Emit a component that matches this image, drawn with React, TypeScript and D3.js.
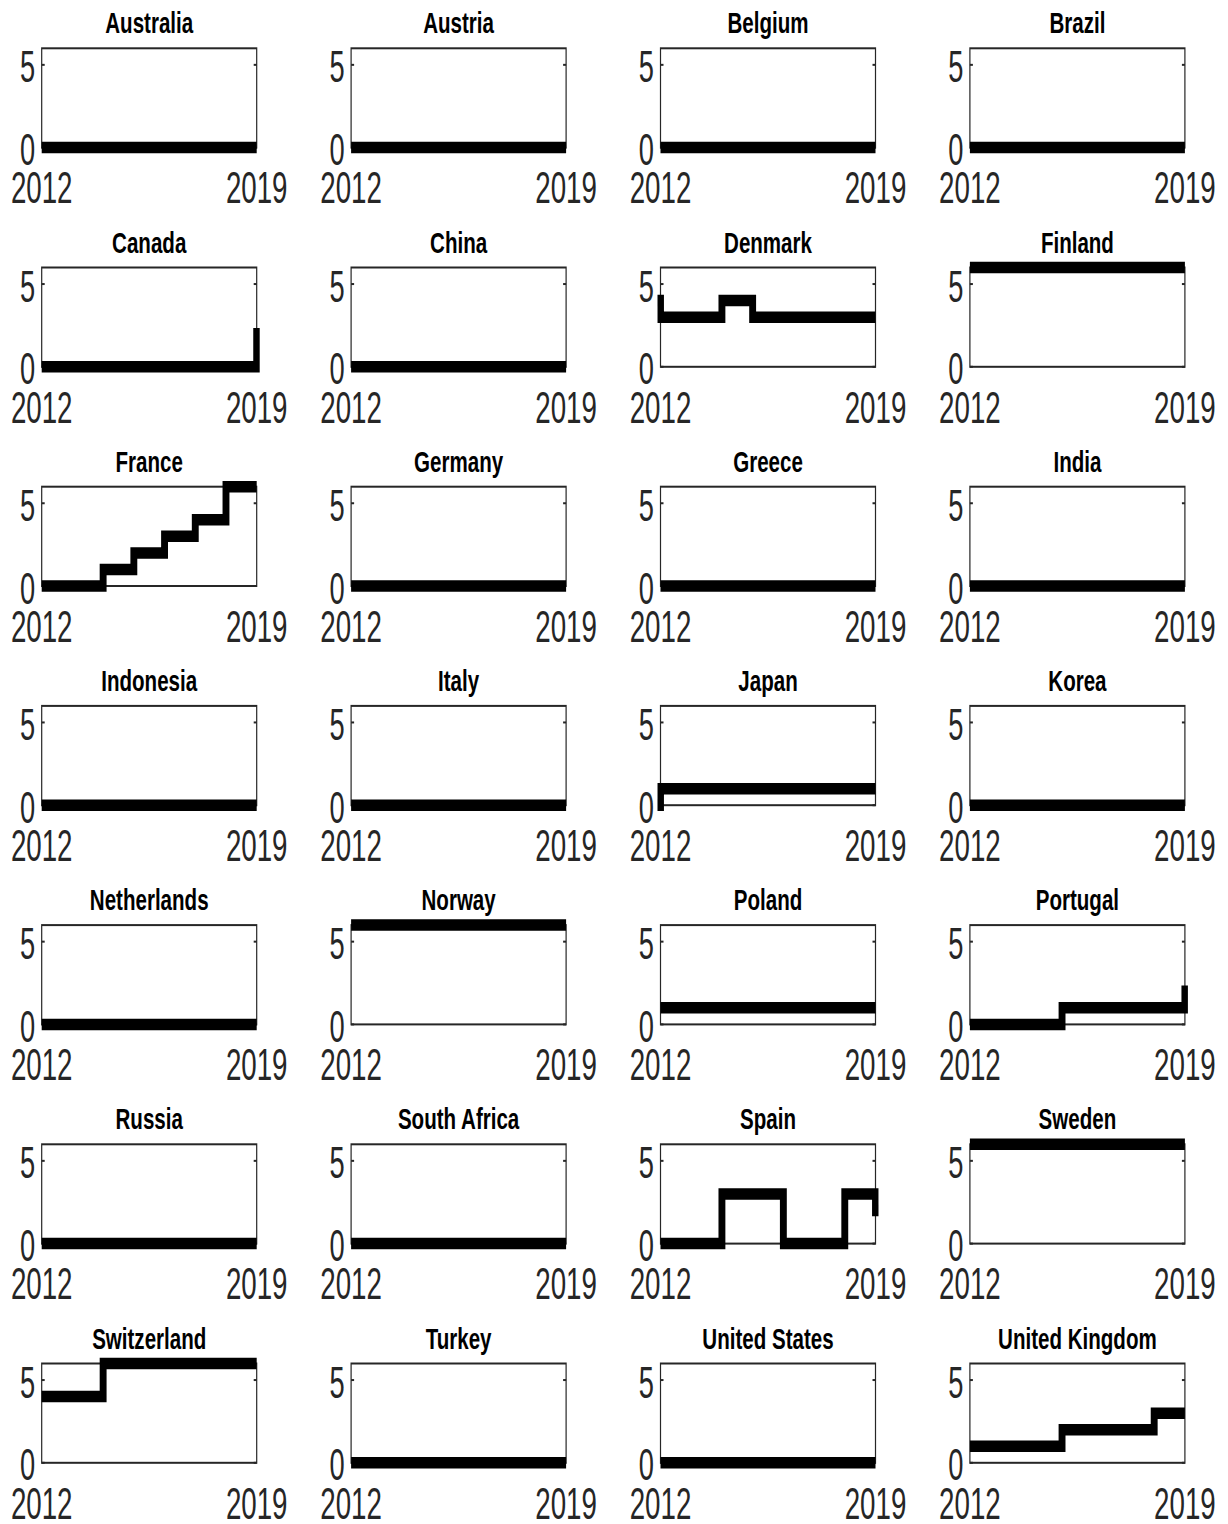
import React from "react";
import * as d3 from "d3";

// Years covered by every panel
const years = [2012, 2013, 2014, 2015, 2016, 2017, 2018, 2019];
const xTicks = [2012, 2019];
const yTicks = [0, 5];

const countries = [
  "Australia", "Austria", "Belgium", "Brazil",
  "Canada", "China", "Denmark", "Finland",
  "France", "Germany", "Greece", "India",
  "Indonesia", "Italy", "Japan", "Korea",
  "Netherlands", "Norway", "Poland", "Portugal",
  "Russia", "South Africa", "Spain", "Sweden",
  "Switzerland", "Turkey", "United States", "United Kingdom",
];

// Yearly values, 2012..2019
const zeros = [0, 0, 0, 0, 0, 0, 0, 0];
const canada = [0, 0, 0, 0, 0, 0, 0, 2];
const denmark = [3, 3, 4, 3, 3, 3, 3, 3];
const finland = [6, 6, 6, 6, 6, 6, 6, 6];
const france = [0, 0, 1, 2, 3, 4, 6, 6];
const japan = [1, 1, 1, 1, 1, 1, 1, 1];
const norway = [6, 6, 6, 6, 6, 6, 6, 6];
const poland = [1, 1, 1, 1, 1, 1, 1, 1];
const portugal = [0, 0, 0, 1, 1, 1, 1, 2];
const spain = [0, 0, 3, 3, 0, 0, 3, 2];
const sweden = [6, 6, 6, 6, 6, 6, 6, 6];
const switzerland = [4, 4, 6, 6, 6, 6, 6, 6];
const unitedKingdom = [1, 1, 1, 2, 2, 2, 3, 3];

// Value held in the year before the window (drawn as an entry step at 2012)
const priorValues: Record<string, number> = { Denmark: 4, Japan: 0 };

const seriesByCountry: Record<string, number[]> = {
  Canada: canada,
  Denmark: denmark,
  Finland: finland,
  France: france,
  Japan: japan,
  Norway: norway,
  Poland: poland,
  Portugal: portugal,
  Spain: spain,
  Sweden: sweden,
  Switzerland: switzerland,
  "United Kingdom": unitedKingdom,
};

const W = 1228;
const H = 1524;
const nCols = 4;
const left0 = 41.7;
const top0 = 48.3;
const colStep = 309.4;
const rowStep = 219.2;
const boxW = 215;
const boxH = 99.3;
const axisColor = "#262626";
// horizontal compression of the drawing (narrow strokes on vertical edges)
const sx = 0.6;
const innerW = boxW / sx;

const x = d3.scaleLinear().domain([2012, 2019]).range([0, innerW]);
const y = d3.scaleLinear().domain([0, 6]).range([boxH, 0]);

const stepLine = d3
  .line<[number, number]>()
  .x((d) => x(d[0]))
  .y((d) => y(d[1]))
  .curve(d3.curveStepAfter);

const font = "Liberation Sans, Arial, sans-serif";

function Panel({ name, index }: { name: string; index: number }) {
  const col = index % nCols;
  const row = Math.floor(index / nCols);
  const tx = left0 + col * colStep;
  const ty = top0 + row * rowStep;
  const vals = seriesByCountry[name] ?? zeros;

  const pts: [number, number][] = [];
  if (priorValues[name] !== undefined) pts.push([2011, priorValues[name]]);
  years.forEach((yr, i) => pts.push([yr, vals[i]]));
  const n = vals.length;
  if (vals[n - 1] !== vals[n - 2]) pts.push([2020, vals[n - 1]]);

  const clipId = `clip-${index}`;
  return (
    <g transform={`translate(${tx},${ty})`}>
      <defs>
        <clipPath id={clipId}>
          <rect x={-3} y={-40} width={boxW + 6} height={boxH + 80} />
        </clipPath>
      </defs>
      <text
        transform={`translate(${boxW / 2},${-15}) scale(0.685,1)`}
        textAnchor="middle"
        fontFamily={font}
        fontWeight="bold"
        fontSize={30}
        fill="#000"
      >
        {name}
      </text>
      <g transform={`scale(${sx},1)`}>
        <rect
          x={0}
          y={0}
          width={innerW}
          height={boxH}
          fill="#fff"
          stroke={axisColor}
          strokeWidth={2}
        />
        {yTicks.map((t) => (
          <g key={`yt${t}`}>
            <line x1={0} x2={5} y1={y(t)} y2={y(t)} stroke={axisColor} strokeWidth={2} />
            <line x1={innerW - 5} x2={innerW} y1={y(t)} y2={y(t)} stroke={axisColor} strokeWidth={2} />
          </g>
        ))}
      </g>
      {yTicks.map((t) => (
        <text
          key={`yl${t}`}
          transform={`translate(${-6.5},${y(t) + 17.5}) scale(0.62,1)`}
          textAnchor="end"
          fontFamily={font}
          fontSize={44}
          fill={axisColor}
        >
          {t}
        </text>
      ))}
      {xTicks.map((t) => (
        <text
          key={`xt${t}`}
          transform={`translate(${x(t) * sx},${boxH + 55.8}) scale(0.63,1)`}
          textAnchor="middle"
          fontFamily={font}
          fontSize={44}
          fill={axisColor}
        >
          {t}
        </text>
      ))}
      <g clipPath={`url(#${clipId})`}>
        <g transform={`scale(${sx},1)`}>
          <path
            d={stepLine(pts) ?? ""}
            fill="none"
            stroke="#000"
            strokeWidth={11.5}
            strokeLinejoin="miter"
            strokeLinecap="butt"
          />
        </g>
      </g>
    </g>
  );
}

export default function App() {
  return (
    <svg
      width={W}
      height={H}
      viewBox={`0 0 ${W} ${H}`}
      style={{ position: "absolute", left: 0, top: 0, display: "block", background: "#fff" }}
    >
      <rect width={W} height={H} fill="#fff" />
      {countries.map((c, i) => (
        <Panel key={c} name={c} index={i} />
      ))}
    </svg>
  );
}
